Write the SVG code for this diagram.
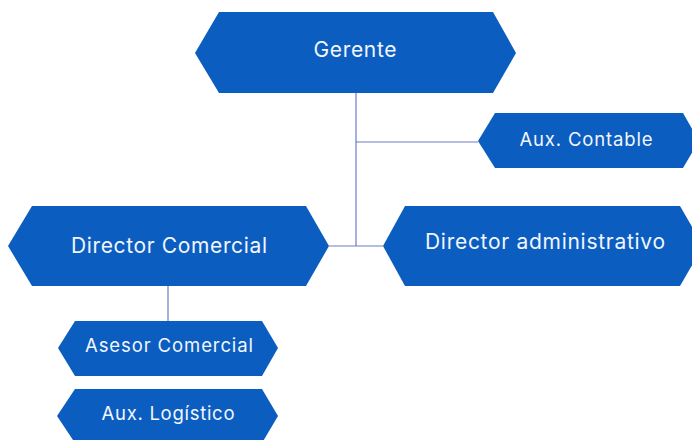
<svg xmlns="http://www.w3.org/2000/svg" width="692" height="440" viewBox="0 0 692 440">
<style>
.n{fill:#0b5dbf}
.t{fill:#f2f6ff;font-family:"Inter","Liberation Sans",sans-serif;text-anchor:middle}
.c{stroke:#6d7cc6;stroke-width:1.2;fill:none}
</style>
<rect width="692" height="440" fill="#ffffff"/>
<g id="connectors">
<path class="c" d="M356 93V246"/>
<path class="c" d="M356 142H478"/>
<path class="c" d="M329 246H383"/>
<path class="c" d="M168 286V321"/>
</g>
<g id="gerente">
<polygon class="n" points="195,53 219,12 493,12 516,53 493,93 219,93"/>
<text class="t" x="355" y="57" font-size="21" textLength="83" lengthAdjust="spacing">Gerente</text>
</g>
<g id="aux-contable">
<polygon class="n" points="478,141 495,113 683,113 699,141 683,168 495,168"/>
<text class="t" x="586" y="146" font-size="18.5" textLength="133" lengthAdjust="spacing">Aux. Contable</text>
</g>
<g id="director-comercial">
<polygon class="n" points="8,246 32,206 306,206 329,246 306,286 32,286"/>
<text class="t" x="169" y="253" font-size="21" textLength="196" lengthAdjust="spacing">Director Comercial</text>
</g>
<g id="director-administrativo">
<polygon class="n" points="383,246 405,206 680,206 703,246 680,286 405,286"/>
<text class="t" x="545" y="249" font-size="21" textLength="240" lengthAdjust="spacing">Director administrativo</text>
</g>
<g id="asesor-comercial">
<polygon class="n" points="58,348 75,321 262,321 278,348 262,376 75,376"/>
<text class="t" x="169" y="352" font-size="18.5" textLength="168" lengthAdjust="spacing">Asesor Comercial</text>
</g>
<g id="aux-logistico">
<polygon class="n" points="57,416 75,389 262,389 278,416 262,443 75,443"/>
<text class="t" x="168" y="420" font-size="18.5" textLength="133" lengthAdjust="spacing">Aux. Logístico</text>
</g>
</svg>
